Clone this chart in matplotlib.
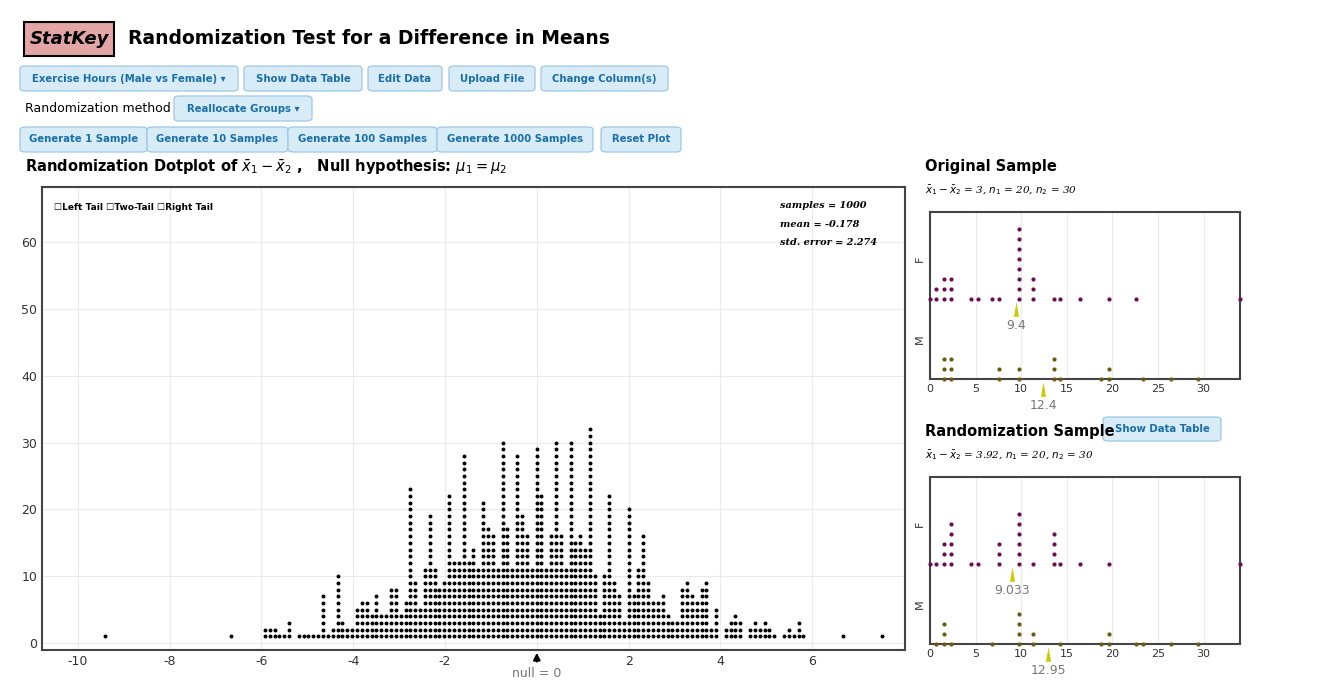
import matplotlib
matplotlib.use("Agg")
import matplotlib.pyplot as plt
from matplotlib.patches import FancyBboxPatch, Rectangle
import numpy as np

W, H = 1320, 697
# ---- data ----
col_start = -5.926
col_step = 0.1057
col_counts = [2,2,2,1,1,3,0,1,1,1,1,1,7,1,2,10,3,2,2,5,6,6,4,7,4,4,8,8,4,6,23,9,5,11,19,11,8,9,22,12,12,28,12,14,11,21,17,16,11,30,17,11,28,19,16,11,29,22,11,16,30,16,11,30,15,
              16,14,32,10,4,10,22,9,7,3,20,7,11,16,9,6,6,7,4,3,3,8,9,7,6,8,9,2,5,0,2,3,4,3,0,2,3,2,3,2,1,0,1,2,1,3,1]
extra_x = [-9.41, -6.67, 6.67, 7.52]
stats_lines = ["samples = 1000", "mean = -0.178", "std. error = 2.274"]
main_xticks = [-10, -8, -6, -4, -2, 0, 2, 4, 6]
main_xticklabels = ["-10", "-8", "-6", "-4", "-2", "", "2", "4", "6"]
main_yticks = [0, 10, 20, 30, 40, 50, 60]

orig_F_vals = [0, 0.7, 1.5, 2.3, 4.5, 5.3, 6.8, 7.6, 9.8, 11.3, 13.6, 14.3, 16.5, 19.6, 22.6, 34]
orig_F_cnt = [1, 2, 3, 3, 1, 1, 1, 1, 8, 3, 1, 1, 1, 1, 1, 1]
orig_M_vals = [1.5, 2.3, 7.6, 9.8, 13.6, 14.3, 18.8, 19.6, 23.4, 26.4, 29.4]
orig_M_cnt = [3, 3, 2, 2, 3, 1, 1, 2, 1, 1, 1]
orig_means = (9.4, 12.4)
rand_F_vals = [0, 0.7, 1.5, 2.3, 4.5, 5.3, 7.6, 9.8, 11.3, 13.6, 14.3, 16.5, 19.6, 34]
rand_F_cnt = [1, 1, 3, 5, 1, 1, 3, 6, 1, 4, 1, 1, 1, 1]
rand_M_vals = [0.7, 1.5, 2.3, 6.8, 9.8, 11.3, 14.3, 18.8, 19.6, 22.6, 23.4, 26.4, 29.4]
rand_M_cnt = [1, 3, 1, 1, 4, 2, 1, 1, 2, 1, 1, 1, 1]
rand_means = (9.033, 12.95)
side_xticks = [0, 5, 10, 15, 20, 25, 30]

def px(l, t, w, h):
    return [l / W, 1 - (t + h) / H, w / W, h / H]

fig = plt.figure(figsize=(W / 100, H / 100), dpi=100)
fig.patch.set_facecolor("white")

def ftext(x, y, s, **kw):
    fig.text(x / W, 1 - y / H, s, **kw)

def button(l, t, w, h, label, fs=7.3):
    p = FancyBboxPatch((l / W, 1 - (t + h) / H), w / W, h / H,
                       boxstyle="round,pad=0,rounding_size=0.004", transform=fig.transFigure,
                       facecolor="#d8ecf8", edgecolor="#9cc8e4", lw=0.9)
    fig.patches.append(p)
    ftext(l + w / 2, t + h / 2, label, ha="center", va="center", fontsize=fs,
          color="#1a6fa8", fontweight="bold")

tri = [(-0.35, -1), (0.35, -1), (0, 1)]

# header
fig.patches.append(Rectangle((24 / W, 1 - 56 / H), 90 / W, 34 / H, transform=fig.transFigure,
                             facecolor="#e3a5a5", edgecolor="black", lw=1.5))
ftext(69, 39, "StatKey", ha="center", va="center", fontsize=13, fontstyle="italic", fontweight="bold")
ftext(128, 39, "Randomization Test for a Difference in Means", ha="left", va="center", fontsize=13.5, fontweight="bold")

button(20, 66, 218, 25, "Exercise Hours (Male vs Female) ▾")
button(244, 66, 118, 25, "Show Data Table")
button(368, 66, 74, 25, "Edit Data")
button(449, 66, 86, 25, "Upload File")
button(541, 66, 127, 25, "Change Column(s)")
ftext(25, 109, "Randomization method", ha="left", va="center", fontsize=9)
button(174, 96, 138, 25, "Reallocate Groups ▾")
button(20, 127, 127, 25, "Generate 1 Sample")
button(147, 127, 141, 25, "Generate 10 Samples")
button(288, 127, 149, 25, "Generate 100 Samples")
button(437, 127, 156, 25, "Generate 1000 Samples")
button(601, 127, 80, 25, "Reset Plot")
ftext(25, 167, r"Randomization Dotplot of $\bar{x}_1-\bar{x}_2$ ,   Null hypothesis: $\mu_1=\mu_2$",
      ha="left", va="center", fontsize=10.5, fontweight="bold")

# main dotplot
ax = fig.add_axes(px(42, 187, 863, 463))
xs, ys = [], []
for i, c in enumerate(col_counts):
    for k in range(c):
        xs.append(col_start + i * col_step)
        ys.append(k + 1)
for x in extra_x:
    xs.append(x); ys.append(1)
ax.scatter(xs, ys, s=8, color="black", linewidths=0, zorder=3)
ax.set_xlim(-10.78, 8.02)
ax.set_ylim(-1.05, 68.3)
ax.set_xticks(main_xticks)
ax.set_xticklabels(main_xticklabels)
ax.set_yticks(main_yticks)
ax.grid(True, color="#ebebeb", lw=0.8)
ax.set_axisbelow(True)
for s in ax.spines.values():
    s.set_color("#444444"); s.set_linewidth(1.5)
ax.tick_params(length=0, labelsize=9, colors="#333333")
ax.annotate("", xy=(0, -1.05), xytext=(0, -3.2), xycoords="data",
            arrowprops=dict(arrowstyle="-|>", color="black", lw=1.5), annotation_clip=False)
ax.text(0, -3.6, "null = 0", ha="center", va="top", fontsize=9, color="#777777")
ax.text(0.014, 0.955, "☐Left Tail ☐Two-Tail ☐Right Tail", transform=ax.transAxes, fontsize=6.5,
        va="center", fontweight="bold")
for j, line in enumerate(stats_lines):
    ax.text(0.855, 0.96 - j * 0.04, line, transform=ax.transAxes, fontsize=7, family="serif",
            fontstyle="italic", fontweight="bold", va="center")

def side(top, fv, fc, mv, mc, means, title, sub):
    ftext(925, top - 45, title, ha="left", va="center", fontsize=10.5, fontweight="bold")
    ftext(925, top - 22, sub, ha="left", va="center", fontsize=7.5, family="serif", fontstyle="italic")
    a = fig.add_axes(px(930, top, 310, 167))
    for vals, cnts, base, col in ((fv, fc, 8, "#6e0b55"), (mv, mc, 0, "#6b5a0e")):
        x, y = [], []
        for v, c in zip(vals, cnts):
            for k in range(c):
                x.append(v); y.append(base + k)
        a.scatter(x, y, s=9, color=col, linewidths=0, zorder=3, clip_on=False)
    a.set_xlim(0, 34)
    a.set_ylim(0, 16.7)
    a.set_xticks(side_xticks)
    a.set_yticks([4, 12])
    a.set_yticklabels(["M", "F"], rotation=90, va="center")
    a.grid(True, axis="x", color="#ebebeb", lw=0.8)
    a.set_axisbelow(True)
    for s in a.spines.values():
        s.set_color("#444444"); s.set_linewidth(1.5)
    a.tick_params(length=0, labelsize=8, colors="#333333")
    a.scatter([means[0]], [7.0], marker=tri, s=110, color="#cccc00", linewidths=0, zorder=4)
    a.text(means[0], 6.0, f"{means[0]:g}", ha="center", va="top", fontsize=9, color="#777777")
    a.scatter([means[1]], [-1.0], marker=tri, s=110, color="#cccc00", linewidths=0, zorder=4, clip_on=False)
    a.text(means[1], -2.0, f"{means[1]:g}", ha="center", va="top", fontsize=9, color="#777777")

side(212, orig_F_vals, orig_F_cnt, orig_M_vals, orig_M_cnt, orig_means, "Original Sample",
     r"$\bar{x}_1-\bar{x}_2$ = 3, $n_1$ = 20, $n_2$ = 30")
side(477, rand_F_vals, rand_F_cnt, rand_M_vals, rand_M_cnt, rand_means, "Randomization Sample",
     r"$\bar{x}_1-\bar{x}_2$ = 3.92, $n_1$ = 20, $n_2$ = 30")
button(1103, 417, 118, 24, "Show Data Table")

fig.savefig("out.png", dpi=100)
